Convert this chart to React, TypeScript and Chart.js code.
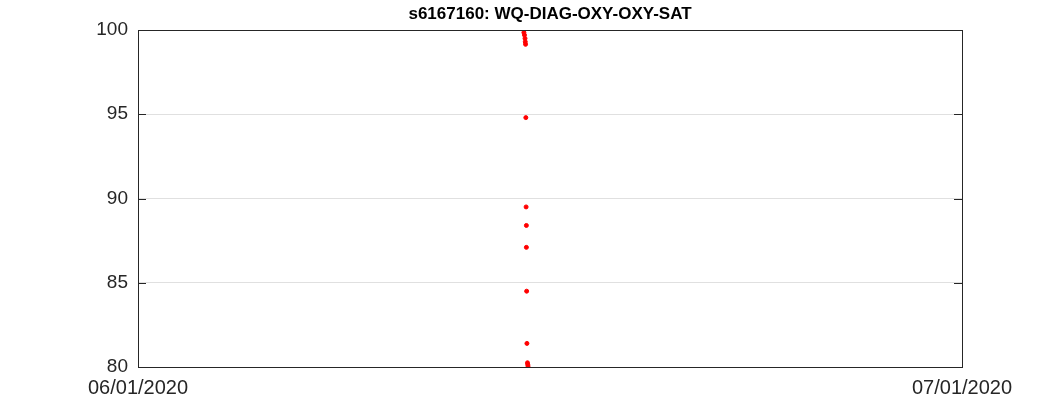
import React, { useEffect, useRef } from "react";
import { Chart, registerables } from "chart.js";
Chart.register(...registerables);

const xDays = [14.05, 14.07, 14.09, 14.1, 14.11, 14.12, 14.13, 14.14, 14.14, 14.15, 14.16, 14.18, 14.19, 14.2];
const yVals = [99.85, 99.7, 99.5, 99.3, 99.15, 94.8, 89.5, 88.4, 87.1, 84.5, 81.4, 80.25, 80.15, 80.05];
const xTickLabels: Record<number, string> = { 0: "06/01/2020", 30: "07/01/2020" };
const title = "s6167160: WQ-DIAG-OXY-OXY-SAT";

export default function App() {
  const ref = useRef<HTMLCanvasElement>(null);
  useEffect(() => {
    document.body.style.margin = "0";
    const frame = {
      id: "frame",
      afterDraw(c: any) {
        const { ctx, chartArea: a, scales } = c;
        ctx.save();
        ctx.strokeStyle = "#262626";
        ctx.lineWidth = 1;
        ctx.strokeRect(a.left + 0.5, a.top + 0.5, a.right - a.left, a.bottom - a.top);
        ctx.beginPath();
        for (const v of [80, 85, 90, 95, 100]) {
          const y = Math.round(scales.y.getPixelForValue(v)) + 0.5;
          ctx.moveTo(a.left, y); ctx.lineTo(a.left + 8, y);
          ctx.moveTo(a.right, y); ctx.lineTo(a.right - 8, y);
        }
        ctx.stroke();
        ctx.fillStyle = "#000";
        ctx.font = "bold 17px Arial, 'Liberation Sans', sans-serif";
        ctx.textAlign = "center";
        ctx.textBaseline = "middle";
        ctx.fillText(title, (a.left + a.right) / 2, 14);
        ctx.restore();
      },
    };
    const chart = new Chart(ref.current!, {
      type: "scatter",
      data: {
        datasets: [{
          data: xDays.map((x, i) => ({ x, y: yVals[i] })),
          backgroundColor: "#ff0000",
          borderColor: "#ff0000",
          pointRadius: 2,
        }],
      },
      options: {
        animation: false,
        responsive: false,
        layout: { padding: { top: 30, right: 101, left: 0, bottom: 0 } },
        plugins: { legend: { display: false }, tooltip: { enabled: false } },
        scales: {
          x: {
            type: "linear", min: 0, max: 30,
            afterBuildTicks: (s: any) => { s.ticks = [{ value: 0 }, { value: 30 }]; },
            afterFit: (s: any) => { s.height = 46; },
            grid: { display: false },
            border: { display: false },
            ticks: {
              color: "#262626", font: { size: 20, family: "Arial, 'Liberation Sans', sans-serif" },
              callback: (v: any) => xTickLabels[v] ?? "", maxRotation: 0, autoSkip: false, padding: 1,
            },
          },
          y: {
            min: 80, max: 100,
            afterFit: (s: any) => { s.width = 138; },
            grid: { color: "#e0e0e0", drawTicks: false },
            border: { display: false },
            ticks: { stepSize: 5, color: "#262626", padding: 10, font: { size: 19, family: "Arial, 'Liberation Sans', sans-serif" } },
          },
        },
      },
      plugins: [frame],
    });
    return () => chart.destroy();
  }, []);
  return <canvas ref={ref} width={1063} height={413} style={{ display: "block" }} />;
}
